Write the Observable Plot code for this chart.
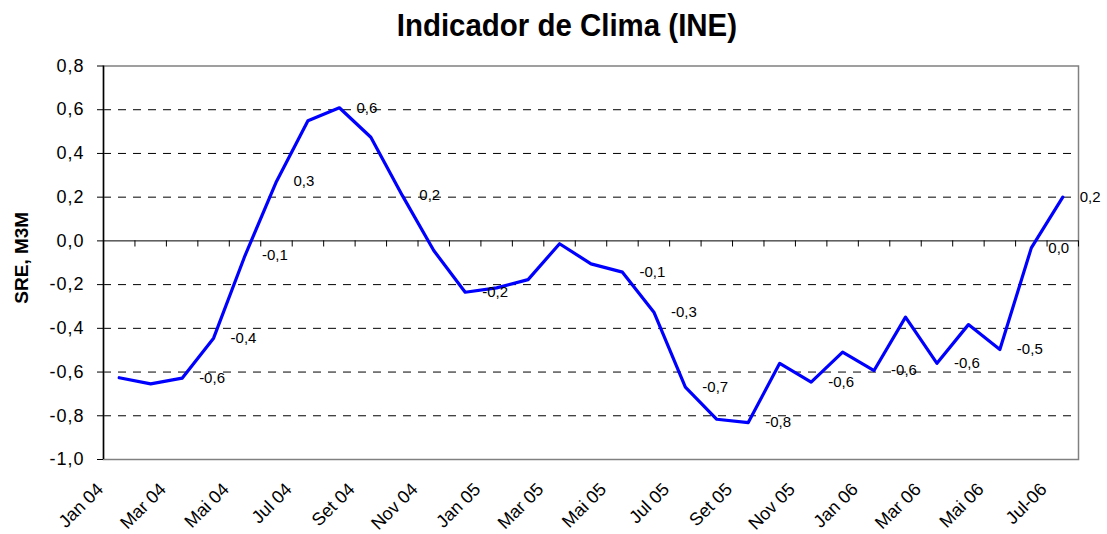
<!DOCTYPE html>
<html>
<head>
<meta charset="utf-8">
<script src="https://cdn.jsdelivr.net/npm/d3@7"></script>
<script src="https://cdn.jsdelivr.net/npm/@observablehq/plot@0.6"></script>
<style>
  body { margin: 0; background: #fff; font-family: "Liberation Sans", Arial, sans-serif; }
  #title { width: 1107px; height: 50px; line-height: 50px; text-align: center; font-weight: bold; font-size: 32px; color: #000; }
  #title span { display: inline-block; transform: translateX(13px) scaleX(0.92); }
</style>
</head>
<body>
<div id="title"><span>Indicador de Clima (INE)</span></div>
<div id="chart"></div>
<script>
// Monthly categories Jan 04 .. Jul 06
const months = ["Jan 04","Fev 04","Mar 04","Abr 04","Mai 04","Jun 04","Jul 04","Ago 04","Set 04","Out 04","Nov 04","Dez 04",
                "Jan 05","Fev 05","Mar 05","Abr 05","Mai 05","Jun 05","Jul 05","Ago 05","Set 05","Out 05","Nov 05","Dez 05",
                "Jan 06","Fev 06","Mar 06","Abr 06","Mai 06","Jun 06","Jul-06"];
// SRE, M3M values
const values = [-0.626,-0.654,-0.628,-0.445,-0.067,0.272,0.550,0.609,0.474,0.208,-0.044,-0.235,
                -0.215,-0.177,-0.013,-0.105,-0.143,-0.326,-0.669,-0.816,-0.831,-0.560,-0.646,-0.509,
                -0.593,-0.349,-0.560,-0.383,-0.497,-0.032,0.200];
// Points that carry a data label
const labelledMonths = ["Mar 04","Abr 04","Mai 04","Jun 04","Ago 04","Out 04","Dez 04","Mai 05","Jun 05","Jul 05",
                        "Set 05","Nov 05","Jan 06","Mar 06","Mai 06","Jun 06","Jul-06"];
// Category axis labels shown (every second month)
const xTickLabels = ["Jan 04","Mar 04","Mai 04","Jul 04","Set 04","Nov 04","Jan 05","Mar 05","Mai 05","Jul 05",
                     "Set 05","Nov 05","Jan 06","Mar 06","Mai 06","Jul-06"];
const yTicks = [-1.0,-0.8,-0.6,-0.4,-0.2,0.0,0.2,0.4,0.6,0.8];
const yGrid = [-0.8,-0.6,-0.4,-0.2,0.2,0.4,0.6];
const yTitle = "SRE, M3M";

const fmt = v => { const r = Math.round(v * 10) / 10; return (r === 0 ? 0 : r).toFixed(1).replace(".", ","); };

const data = months.map((m, i) => ({month: m, i, v: values[i]}));
const labelData = data.filter(d => labelledMonths.includes(d.month));
const xTickData = xTickLabels.map(l => ({label: l, i: months.indexOf(l)}));
const boundaries = d3.range(months.length + 1).map(k => k - 0.5);

const chart = Plot.plot({
  width: 1107,
  height: 484,
  marginTop: 15.5,
  marginBottom: 75,
  marginLeft: 103,
  marginRight: 29,
  style: {fontFamily: "'Liberation Sans', Arial, sans-serif", background: "white", color: "#000"},
  x: {domain: [-0.5, months.length - 0.5], axis: null},
  y: {domain: [-1, 0.8], axis: null},
  marks: [
    Plot.ruleY(yGrid, {stroke: "#000", strokeWidth: 1, strokeDasharray: "8,7"}),
    Plot.frame({stroke: "#808080", strokeWidth: 1.5}),
    Plot.ruleY([0], {stroke: "#000", strokeWidth: 1}),
    Plot.ruleX(boundaries, {y1: 0, y2: -0.028, stroke: "#000", strokeWidth: 1}),
    Plot.ruleX([-0.5], {stroke: "#000", strokeWidth: 1.5}),
    Plot.axisY({ticks: yTicks, tickSize: 6, tickPadding: 13, tickFormat: fmt, label: null, fontSize: 18, stroke: "#000", fill: "#000"}),
    Plot.line(data, {x: "i", y: "v", stroke: "#0000ff", strokeWidth: 3.2}),
    Plot.text(labelData, {x: "i", y: "v", text: d => fmt(d.v), dx: 17, textAnchor: "start", fontSize: 15, fill: "#000"}),
    Plot.text(xTickData, {x: "i", y: () => -1, text: "label", rotate: -45, textAnchor: "end", lineAnchor: "bottom",
                          dx: -15, dy: 31, fontSize: 18, fill: "#000"}),
    Plot.text([yTitle], {frameAnchor: "left", dx: -82, dy: -5, rotate: -90, textAnchor: "middle", fontWeight: "bold", fontSize: 19, fill: "#000"})
  ]
});
d3.select(chart).selectAll("g[aria-label='y-axis tick label'] text").style("letter-spacing", "1px");
document.getElementById("chart").appendChild(chart);
</script>
</body>
</html>
